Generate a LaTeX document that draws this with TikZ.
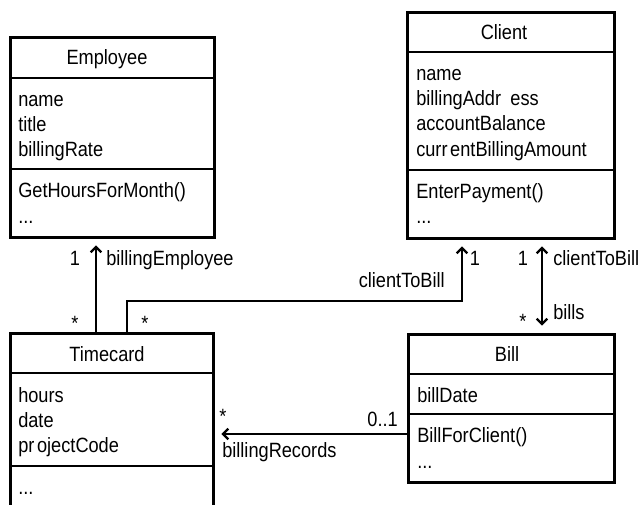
\documentclass[tikz,border=0pt]{standalone}
\usepackage{fontspec}
\setmainfont[FakeStretch=0.88]{Liberation Sans}
\usetikzlibrary{arrows.meta}

\tikzset{
  classbox/.style={draw=black, line width=2pt, inner sep=0pt, anchor=north west},
  compart/.style={line width=2pt},
  member/.style={anchor=base west, inner sep=0pt, font=\fontsize{15.5}{18}\selectfont},
  classname/.style={anchor=base, inner sep=0pt, font=\fontsize{15.5}{18}\selectfont},
  rolelabel/.style={inner sep=0pt, font=\fontsize{15.5}{18}\selectfont},
  assoc/.style={line width=1.8pt, >={Straight Barb[length=4pt,width=8pt]}, ->, shorten >=5pt},
  bothassoc/.style={assoc, <->, shorten <=5.5pt},
}

\begin{document}
\begin{tikzpicture}[x=0.75pt, y=-0.75pt]
  \clip (0,0) rectangle (643,504);

  %# CLASS EMPLOYEE
  \node[classbox, minimum width=153pt, minimum height=150pt] (employee) at (9,36) {};
  \draw[compart] (employee.west |- 0,78) -- (employee.east |- 0,78);
  \draw[compart] (employee.west |- 0,169) -- (employee.east |- 0,169);
  \node[classname] (employeeTitle) at (107,64) {Employee};
  \node[member] (empName) at (18,106) {name};
  \node[member] (empTitle) at (18,131) {title};
  \node[member] (empRate) at (18,156) {billingRate};
  \node[member] (empHours) at (18,197) {GetHoursForMonth()};
  \node[member] (empMore) at (18,223) {...};

  %# CLASS CLIENT
  \node[classbox, minimum width=155.25pt, minimum height=169.5pt] (client) at (406,11) {};
  \draw[compart] (client.west |- 0,52) -- (client.east |- 0,52);
  \draw[compart] (client.west |- 0,170) -- (client.east |- 0,170);
  \node[classname] (clientTitle) at (504,39) {Client};
  \node[member] (cliName) at (416,80) {name};
  \node[member] (cliAddr) at (416,105) {billingAddr\hspace{7pt}ess};
  \node[member] (cliBalance) at (416,130) {accountBalance};
  \node[member] (cliAmount) at (416,156) {curr\hspace{2pt}entBillingAmount};
  \node[member] (cliPay) at (416,198) {EnterPayment()};
  \node[member] (cliMore) at (416,223) {...};

  %# CLASS TIMECARD
  \node[classbox, minimum width=152.25pt, minimum height=150pt] (timecard) at (9,332) {};
  \draw[compart] (timecard.west |- 0,373) -- (timecard.east |- 0,373);
  \draw[compart] (timecard.west |- 0,466) -- (timecard.east |- 0,466);
  \node[classname] (timecardTitle) at (107,361) {Timecard};
  \node[member] (tcHours) at (18,402) {hours};
  \node[member] (tcDate) at (18,427) {date};
  \node[member] (tcCode) at (18,452) {pr\hspace{2pt}ojectCode};
  \node[member] (tcMore) at (18,494) {...};

  %# CLASS BILL
  \node[classbox, minimum width=154.5pt, minimum height=111pt] (bill) at (407,333) {};
  \draw[compart] (bill.west |- 0,374) -- (bill.east |- 0,374);
  \draw[compart] (bill.west |- 0,414) -- (bill.east |- 0,414);
  \node[classname] (billTitle) at (507,361) {Bill};
  \node[member] (billDate) at (417,402) {billDate};
  \node[member] (billFor) at (417,442) {BillForClient()};
  \node[member] (billMore) at (417,468) {...};

  %# ASSOCIATIONS
  \coordinate (tcEmp) at ([xshift=65.25pt]timecard.north west);
  \draw[assoc] (tcEmp) -- (tcEmp |- employee.south);

  \coordinate (tcCli) at ([xshift=88.5pt]timecard.north west);
  \coordinate (cliTc) at ([xshift=42pt]client.south west);
  \draw[assoc] (tcCli) -- ++(0,-31) -| (cliTc);

  \coordinate (cliBill) at ([xshift=102pt]client.south west);
  \draw[bothassoc] (cliBill |- bill.north) -- (cliBill);

  \coordinate (billTc) at ([yshift=-75.75pt]bill.north west);
  \draw[assoc] (billTc) -- (billTc -| timecard.east);

  %# ROLES AND MULTIPLICITIES
  \node[rolelabel, anchor=base] (empMult) at (75,265) {1};
  \node[rolelabel, anchor=base west] (empRole) at (106,265) {billingEmployee};
  \node[rolelabel, anchor=base] (tcEmpMult) at (75,330) {*};
  \node[rolelabel, anchor=base] (tcCliMult) at (145,330) {*};
  \node[rolelabel, anchor=base east] (cliRole) at (445,287) {clientToBill};
  \node[rolelabel, anchor=base] (cliMult) at (475,265) {1};
  \node[rolelabel, anchor=base] (billCliMult) at (523,265) {1};
  \node[rolelabel, anchor=base west] (billCliRole) at (553,265) {clientToBill};
  \node[rolelabel, anchor=base west] (billsRole) at (553,319) {bills};
  \node[rolelabel, anchor=base] (billsMult) at (523,328) {*};
  \node[rolelabel, anchor=base] (recMult) at (223,423) {*};
  \node[rolelabel, anchor=base east] (recBillMult) at (398,426) {0..1};
  \node[rolelabel, anchor=base west] (recRole) at (222,457) {billingRecords};
\end{tikzpicture}
\end{document}
